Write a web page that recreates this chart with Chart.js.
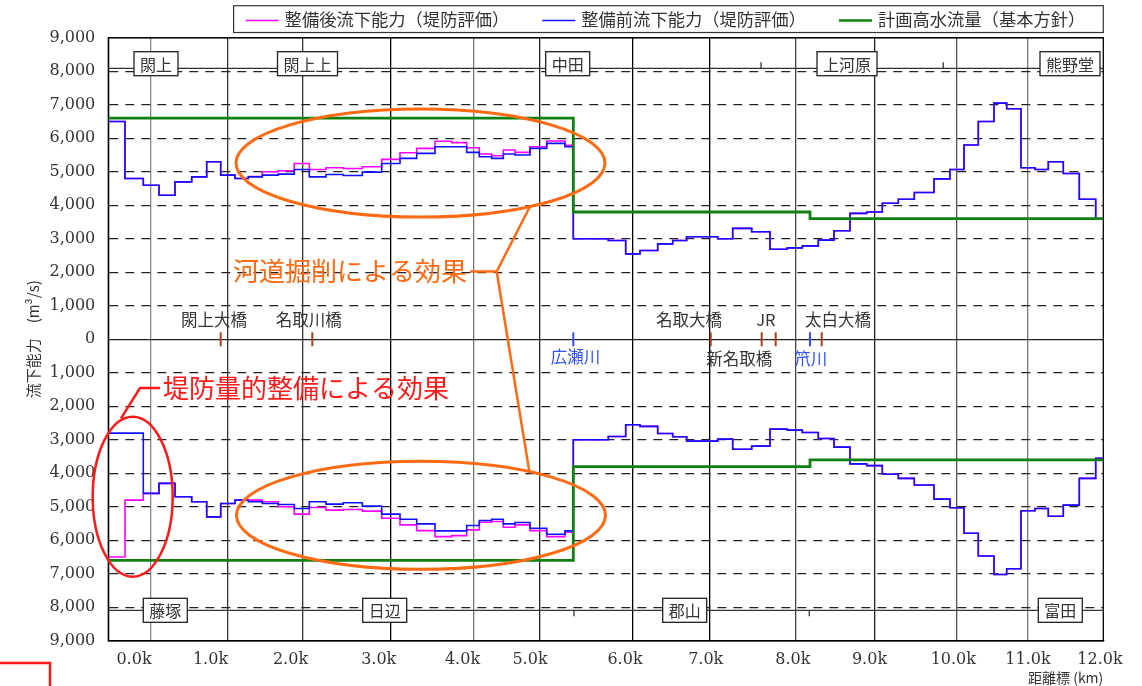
<!DOCTYPE html>
<html><head><meta charset="utf-8">
<script src="https://cdn.jsdelivr.net/npm/chart.js@4.4.0/dist/chart.umd.min.js"></script>
<style>html,body{margin:0;padding:0;background:#fff;}#wrap{width:1142px;height:686px;}</style>
</head><body><div id="wrap"><canvas id="c" width="1142" height="686"></canvas></div>
<script>
// ---------------- DATA ----------------
// section boundaries along the river (chart distance units; km grid positions below)
const sectionEdges = [0,16.7,35,50.7,66.7,83.4,98.4,112.4,126.7,140,154,170,186,201,217.7,235,254,273.4,291.7,308.4,
  326.7,343.4,358.4,371,383.4,395,406.7,421.7,438.4,456.7,465,500,517.4,531.7,549.4,564.4,578.4,609.4,624.4,643.4,
  661.7,679,694,710,725.7,741.7,758.4,774,790,806,825.7,841.7,855.7,870,885.7,898.4,912.7,926.7,940,955,971,987.4,995];

// upper half (left bank) flow capacity, m3/s
const beforeUpper = [6500,4800,4600,4300,4700,4850,5300,4900,4800,4850, 4900,4930,5070,4850,4920,4890,4990,5250,5400,5550,
  5750,5750,5580,5450,5400,5530,5500,5700,5850,5750, 3000,2950,2550,2650,2850,2950,3060,3000,3310,3210,
  2690,2730,2790,2960,3240,3760,3800,4060,4180,4380, 4790,5070,5800,6500,7050,6880,5120,5070,5300,4950, 4180,3600];
const afterUpper = [6500,4800,4600,4300,4700,4850,5300,4900,4800,4860, 5000,5030,5250,5070,5120,5100,5150,5370,5570,5700,
  5910,5870,5720,5530,5480,5650,5580,5750,5920,5790, 3000,2950,2550,2650,2850,2950,3060,3000,3310,3210,
  2690,2730,2790,2960,3240,3760,3800,4060,4180,4380, 4790,5070,5800,6500,7050,6880,5120,5070,5300,4950, 4180,3600];
// lower half (right bank) flow capacity, drawn downward
const beforeLower = [-2800,-2800,-4600,-4300,-4700,-4850,-5300,-4900,-4800,-4850, -4900,-4930,-5050,-4850,-4920,-4880,-4980,-5220,-5370,-5510,
  -5720,-5720,-5560,-5410,-5370,-5510,-5470,-5640,-5820,-5720, -3000,-2900,-2550,-2600,-2810,-2910,-3040,-2980,-3280,-3190,
  -2680,-2710,-2780,-2960,-3220,-3720,-3770,-4030,-4150,-4350, -4770,-5030,-5790,-6470,-7020,-6850,-5120,-5050,-5280,-4950, -4150,-3550];
const afterLower = [-6500,-4800,-4600,-4300,-4700,-4850,-5300,-4900,-4800,-4800, -4850,-5000,-5220,-5020,-5100,-5080,-5130,-5340,-5540,-5710,
  -5890,-5860,-5690,-5460,-5440,-5610,-5540,-5710,-5890,-5760, -3000,-2900,-2550,-2600,-2810,-2910,-3040,-2980,-3280,-3190,
  -2680,-2710,-2780,-2960,-3220,-3720,-3770,-4030,-4150,-4350, -4770,-5030,-5790,-6470,-7020,-6850,-5120,-5050,-5280,-4950, -4150,-3550];
// design flood discharge
const planEdges = [0,465,701.7,995];
const planUpper = [6600,3800,3600];
const planLower = [-6600,-3800,-3600];

// axis ticks
const kmGrid = [42.4,119.2,194.2,282,365,431,524,601,687,766,848.4,919.5];
const kmLabels = ['0.0k','1.0k','2.0k','3.0k','4.0k','5.0k','6.0k','7.0k','8.0k','9.0k','10.0k','11.0k','12.0k'];
const kmLabelPos = [25.7,102.2,182.2,270.4,354.2,421.7,516.7,597.4,684.5,761.2,845,919.7,991.7];

// place names, bridges
const placeUpper = [['閖上',47.7],['閖上上',199.2],['中田',459.4],['上河原',738.7],['熊野堂',961.7]];
const placeLower = [['藤塚',57],['日辺',276.4],['郡山',576.4],['富田',952]];
const placeLineValue = 8090;
const placeTicksUpper = [652.7,834.9];
const placeTicksLower = [465.7,701];
const bridgeLabels = [['閖上大橋',105.7,576],['名取川橋',200.5,576],['名取大橋',580.7,576],['JR',657.5,576],['太白大橋',729.7,576],['新名取橋',630.9,-588]];
const tributaryLabels = [['広瀬川',467.2,-528],['笊川',702.5,-588]];
const bridgeTicks = [112.4,204,602.4,653.4,667.4,713.4];
const tributaryTicks = [465,701.7];

// ---------------- HELPERS ----------------
function stepPoints(edges, vals){
  const pts = vals.map((v,i)=>({x:edges[i], y:v}));
  pts.push({x:edges[edges.length-1], y:vals[vals.length-1]});
  return pts;
}
const fmt = v => Math.abs(v).toLocaleString('en-US');
const JP = '"Noto Sans CJK JP", "Noto Sans", sans-serif';
const SERIF = '"DejaVu Serif", "Liberation Serif", serif';
const MAGENTA = '#ff00ff', BLUE = '#1010ff', GREEN = '#108010';
const ORANGE = '#ff6a13', RED = '#ff1a1a', BROWN = '#a8401a', TBLUE = '#3050ff';
const vGridColors = ['#888','#333','#333','#000','#777','#222','#000','#000','#444','#222','#555','#777'];

const annot = {
  id: 'annot',
  beforeDatasetsDraw(chart){
    const {ctx, chartArea:a, scales:{x, y}} = chart;
    ctx.save();
    ctx.strokeStyle = '#000'; ctx.lineWidth = 1.3;
    ctx.strokeRect(a.left, a.top, a.right - a.left, a.bottom - a.top);
    ctx.strokeStyle = '#333'; ctx.lineWidth = 1.3;
    [placeLineValue, -placeLineValue].forEach(v => {
      const py = y.getPixelForValue(v);
      ctx.beginPath(); ctx.moveTo(a.left, py); ctx.lineTo(a.right, py); ctx.stroke();
    });
    const pu = y.getPixelForValue(placeLineValue), pl = y.getPixelForValue(-placeLineValue);
    placeTicksUpper.forEach(v => { const px = x.getPixelForValue(v); ctx.beginPath(); ctx.moveTo(px, pu); ctx.lineTo(px, pu-6); ctx.stroke(); });
    placeTicksLower.forEach(v => { const px = x.getPixelForValue(v); ctx.beginPath(); ctx.moveTo(px, pl); ctx.lineTo(px, pl+6); ctx.stroke(); });
    ctx.restore();
  },
  afterDraw(chart){
    const {ctx, chartArea:a, scales:{x, y}} = chart;
    const X = v => x.getPixelForValue(v), Y = v => y.getPixelForValue(v);
    ctx.save();
    // place name boxes
    ctx.font = '16px ' + JP; ctx.textAlign = 'center'; ctx.textBaseline = 'middle';
    const box = (name, u, val) => {
      const w = ctx.measureText(name).width + 12, h = 24, cx = X(u), cy = Y(val);
      ctx.fillStyle = '#fff'; ctx.fillRect(cx - w/2, cy - h/2, w, h);
      ctx.strokeStyle = '#222'; ctx.lineWidth = 1.3; ctx.strokeRect(cx - w/2, cy - h/2, w, h);
      ctx.fillStyle = '#333'; ctx.fillText(name, cx, cy + 1);
    };
    placeUpper.forEach(p => box(p[0], p[1], 8227));
    placeLower.forEach(p => box(p[0], p[1], -8090));
    // bridges
    ctx.lineWidth = 2;
    const z = Y(0);
    bridgeTicks.forEach(u => { ctx.strokeStyle = BROWN; ctx.beginPath(); ctx.moveTo(X(u), z-7); ctx.lineTo(X(u), z+7); ctx.stroke(); });
    tributaryTicks.forEach(u => { ctx.strokeStyle = TBLUE; ctx.beginPath(); ctx.moveTo(X(u), z-7); ctx.lineTo(X(u), z+7); ctx.stroke(); });
    ctx.font = '16.5px ' + JP;
    bridgeLabels.forEach(b => { ctx.fillStyle = '#333'; ctx.fillText(b[0], X(b[1]), Y(b[2])); });
    tributaryLabels.forEach(b => { ctx.fillStyle = TBLUE; ctx.fillText(b[0], X(b[1]), Y(b[2])); });
    // orange ellipses (river excavation effect)
    const ell = (u, v, ru, rv, color, lw) => {
      const cx = X(u), cy = Y(v), rx = X(u+ru) - cx, ry = Math.abs(Y(v+rv) - cy);
      ctx.strokeStyle = color; ctx.lineWidth = lw; ctx.beginPath(); ctx.ellipse(cx, cy, rx, ry, 0, 0, Math.PI*2); ctx.stroke();
    };
    ell(312.2, 5260, 184.5, 1612, ORANGE, 3);
    ell(312.7, -5254, 184.5, 1612, ORANGE, 3);
    ctx.strokeStyle = ORANGE; ctx.lineWidth = 2.5;
    ctx.beginPath(); ctx.moveTo(X(361.7), Y(2024)); ctx.lineTo(X(388.4), Y(2024));
    ctx.lineTo(X(421.7), Y(3964)); ctx.moveTo(X(388.4), Y(2024)); ctx.lineTo(X(421), Y(-3943)); ctx.stroke();
    ctx.font = '26px ' + JP; ctx.textAlign = 'left'; ctx.fillStyle = ORANGE;
    ctx.fillText('河道掘削による効果', X(124.7), Y(2024));
    // red ellipse (levee effect)
    ell(24.4, -4699, 40, 2388, RED, 2.5);
    ctx.strokeStyle = RED; ctx.lineWidth = 2.5;
    ctx.beginPath(); ctx.moveTo(X(51.7), Y(-1454)); ctx.lineTo(X(31.7), Y(-1454)); ctx.lineTo(X(12.7), Y(-2358)); ctx.stroke();
    ctx.fillStyle = RED;
    ctx.fillText('堤防量的整備による効果', X(54.7), Y(-1454));
    // legend
    const items = chart.data.datasets.filter(d => d.showInLegend);
    ctx.font = '17.3px ' + JP; ctx.textBaseline = 'middle';
    const widths = items.map(d => ctx.measureText(d.label).width);
    const lineLen = 33, gap = 6, itemGap = 33;
    const total = widths.reduce((s, w) => s + lineLen + gap + w, 0) + itemGap*(items.length - 1);
    let cx = a.right - 18 - total;
    const bl = cx - 12, bt = 5.7, bb = 32.5, ly = 19.5;
    ctx.strokeStyle = '#333'; ctx.lineWidth = 1.2; ctx.strokeRect(bl, bt, a.right - bl, bb - bt);
    items.forEach((d, i) => {
      ctx.strokeStyle = d.borderColor; ctx.lineWidth = Math.min(d.borderWidth, 2.5);
      ctx.beginPath(); ctx.moveTo(cx, ly + 1); ctx.lineTo(cx + lineLen, ly + 1); ctx.stroke();
      ctx.fillStyle = '#333'; ctx.fillText(d.label, cx + lineLen + gap, ly);
      cx += lineLen + gap + widths[i] + itemGap;
    });
    // cropped red frame at lower-left corner
    ctx.strokeStyle = RED; ctx.lineWidth = 2.5;
    ctx.beginPath(); ctx.moveTo(0, 663); ctx.lineTo(50, 663); ctx.lineTo(50, 686); ctx.stroke();
    ctx.restore();
  }
};

const ds = (label, data, color, width, order, show) => ({
  label, data, borderColor: color, backgroundColor: color, borderWidth: width,
  pointRadius: 0, stepped: 'before', order, showInLegend: show, xAxisID: 'x', yAxisID: 'y', fill: false
});

new Chart(document.getElementById('c'), {
  type: 'line',
  data: { datasets: [
    ds('整備後流下能力（堤防評価）', stepPoints(sectionEdges, afterUpper), MAGENTA, 1.6, 3, true),
    ds('整備前流下能力（堤防評価）', stepPoints(sectionEdges, beforeUpper), BLUE, 1.6, 2, true),
    ds('計画高水流量（基本方針）', stepPoints(planEdges, planUpper), GREEN, 2.8, 1, true),
    ds('整備後流下能力（堤防評価）', stepPoints(sectionEdges, afterLower), MAGENTA, 1.6, 3, false),
    ds('整備前流下能力（堤防評価）', stepPoints(sectionEdges, beforeLower), BLUE, 1.6, 2, false),
    ds('計画高水流量（基本方針）', stepPoints(planEdges, planLower), GREEN, 2.8, 1, false)
  ]},
  options: {
    responsive: false, animation: false, devicePixelRatio: 1,
    layout: { padding: { top: 37.8, right: 38.7, left: 0, bottom: 0 } },
    plugins: { legend: { display: false }, tooltip: { enabled: false } },
    scales: {
      x: {
        type: 'linear', position: 'bottom', min: 0, max: 995,
        afterBuildTicks: s => { s.ticks = kmGrid.map(v => ({ value: v })); },
        afterFit: s => { s.height = 0; },
        ticks: { display: false },
        grid: { drawTicks: false, lineWidth: 1.3, color: c => vGridColors[c.index] || '#333' },
        border: { display: true, color: '#000', width: 1.3 }
      },
      x2: {
        type: 'linear', position: 'bottom', min: 0, max: 995,
        afterBuildTicks: s => { s.ticks = kmLabelPos.map(v => ({ value: v })); },
        afterFit: s => { s.height = 45.2; },
        grid: { display: false, drawTicks: false },
        border: { display: false },
        ticks: { autoSkip: false, maxRotation: 0, padding: 9, color: '#333',
                 font: { family: SERIF, size: 16 }, callback: (v, i) => kmLabels[i] },
        title: { display: true, text: '距離標 (km)', align: 'end', color: '#333',
                 font: { family: JP, size: 14 }, padding: { top: 0, bottom: 0 } }
      },
      y: {
        type: 'linear', min: -9000, max: 9000,
        afterFit: s => { s.width = 108.3; },
        ticks: { stepSize: 1000, padding: 13, color: '#333', font: { family: SERIF, size: 16 }, callback: v => fmt(v) },
        grid: { drawTicks: false, lineWidth: 1.2, color: '#222' },
        border: { display: true, color: '#000', width: 1.3,
                  dash: c => (c.tick && c.tick.value !== 0 && Math.abs(c.tick.value) !== 9000) ? [9, 7] : [] },
        title: { display: true, text: '流下能力　(m³/s)', color: '#333', font: { family: JP, size: 15 },
                 padding: { top: 24, bottom: 0 } }
      }
    }
  },
  plugins: [annot]
});
</script>
</body></html>
